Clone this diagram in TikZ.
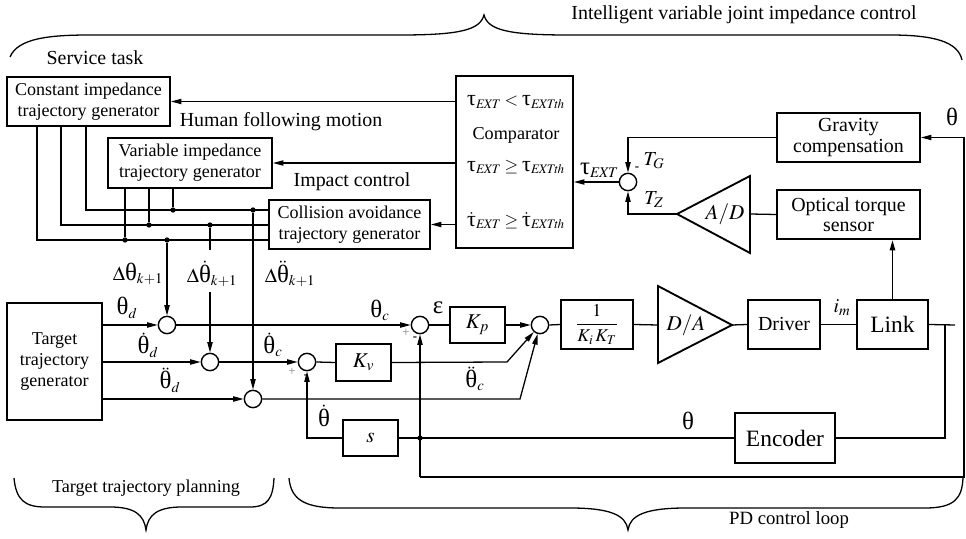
\documentclass[tikz,border=0pt]{standalone}
\usepackage{amsmath}
\usepackage{graphicx}
\usepackage{mathptmx}
\usepackage{fontspec}
\setmainfont{Liberation Serif}
\usetikzlibrary{arrows.meta, positioning, calc}
\tikzset{
    % framed blocks of the controller
    blk/.style={draw, line width=1.6pt, align=center, inner sep=0pt,
        font=\fontsize{15.4}{18}\selectfont},
    % summing junctions
    sumj/.style={circle, draw, line width=1.2pt, minimum size=0.52cm, inner sep=0pt},
    % branch points
    jdot/.style={circle, fill=black, inner sep=0pt, minimum size=4.5pt},
    % plain wires, heavy buses, arrowed signals
    wire/.style={line width=1.1pt},
    bus/.style={line width=1.6pt},
    sig/.style={wire, -{Triangle[length=9pt, width=4.5pt]}},
    % signal names and free text
    lbl/.style={font=\fontsize{17}{20}\selectfont, inner sep=0pt},
    cmprow/.style={font=\fontsize{15}{17}\selectfont, inner sep=0pt},
    sgn/.style={font=\fontsize{11}{11}\selectfont, inner sep=0pt},
    brace/.style={line width=1.1pt},
}
% upright greek letters, set a little larger than the text
\newcommand{\grk}[1]{\mbox{\scalebox{1.25}{#1}}}
\newcommand{\uth}{\grk{θ}}
\newcommand{\utau}{\grk{τ}}
\newcommand{\ueps}{\grk{ε}}

\begin{document}
\begin{tikzpicture}[x=0.03cm, y=-0.03cm]
    \useasboundingbox (0,0) rectangle (966,539);

    % --- braces and group titles ---
    \draw[brace] (10,57) .. controls (18,38) and (50,35) .. (90,35) -- (400,35)
        .. controls (460,35) and (480,30) .. (484,15)
        .. controls (488,30) and (508,35) .. (568,35) -- (890,35)
        .. controls (935,35) and (958,42) .. (962,60);
    \node[lbl] (tIVJ) at (744,15) {Intelligent variable joint impedance control};
    \node[lbl] (tServ) at (95,58) {Service task};
    \node[lbl] (tHum) at (281,122) {Human following motion};
    \node[lbl] (tImp) at (352,182) {Impact control};

    \draw[brace] (14,478) .. controls (16,500) and (25,507) .. (45,507) -- (110,507)
        .. controls (135,507) and (144,515) .. (146,530)
        .. controls (148,515) and (157,507) .. (182,507) -- (250,507)
        .. controls (268,507) and (273,498) .. (274,478);
    \node[lbl, font=\fontsize{15.5}{18}\selectfont] (tPlan) at (146,488) {Target trajectory planning};
    \draw[brace] (289,478) .. controls (291,500) and (305,508) .. (340,508) -- (570,508)
        .. controls (610,508) and (626,515) .. (628,530)
        .. controls (630,515) and (646,508) .. (686,508) -- (925,508)
        .. controls (955,508) and (962,498) .. (963,478);
    \node[lbl, font=\fontsize{16}{18}\selectfont] (tPD) at (789,520) {PD control loop};

    % --- trajectory generators ---
    \node[blk, minimum width=4.89cm, minimum height=1.47cm] (cimp) at (88.5,101.5)
        {Constant impedance\\trajectory generator};
    \node[blk, minimum width=4.92cm, minimum height=1.5cm] (vimp) at (190,163)
        {Variable impedance\\trajectory generator};
    \node[blk, minimum width=4.83cm, minimum height=1.47cm] (coll) at (349.5,224.5)
        {Collision avoidance\\trajectory generator};

    % --- comparator ---
    \node[blk, minimum width=3.51cm, minimum height=5.16cm] (comp) at (514.5,162) {};
    \node[cmprow] (cmp1) at (516,102) {$\utau_{\mathit{EXT}}<\utau_{\mathit{EXTth}}$};
    \node[lbl, font=\fontsize{15.5}{18}\selectfont] (cmp2) at (516,135) {Comparator};
    \node[cmprow] (cmp3) at (516,167) {$\utau_{\mathit{EXT}}\geq\utau_{\mathit{EXTth}}$};
    \node[cmprow] (cmp4) at (516,221) {$\dot{\utau}_{\mathit{EXT}}\geq\dot{\utau}_{\mathit{EXTth}}$};

    \draw[sig] (comp.west |- cimp.east) -- (cimp.east);
    \draw[sig] (comp.west |- vimp.east) -- (vimp.east);
    \draw[sig] (comp.west |- coll.east) -- (coll.east);

    % --- external torque estimate ---
    \node[sumj] (tsum) at (628,182) {};
    \node[blk, font=\fontsize{17}{17.5}\selectfont, minimum width=4.29cm, minimum height=1.47cm]
        (grav) at (848.5,137.5) {Gravity\\compensation};
    \node[blk, font=\fontsize{17}{17.5}\selectfont, minimum width=4.29cm, minimum height=1.47cm]
        (torq) at (848.5,214.5) {Optical torque\\sensor};
    \draw[line width=1.6pt] (677,214) -- (750,176) -- (750,253) -- cycle;
    \coordinate (adtip) at (677,214);
    \coordinate (adbase) at (750,214);
    \node[lbl, font=\fontsize{18}{20}\selectfont] (adlbl) at (725,214) {$A/D$};

    \draw[sig] (tsum.west) -- (comp.east |- tsum.west);
    \draw[sig] (grav.west) -| (tsum.north);
    \draw[sig] (adtip) -| (tsum.south);
    \draw[wire] (torq.west) -- (adbase);
    \node[lbl] (lTau) at (599,170) {$\utau_{\mathit{EXT}}$};
    \node[lbl] (lTG) at (654,161) {$T_G$};
    \node[lbl] (lTZ) at (654,200) {$T_Z$};
    \node[sgn, font=\bfseries\fontsize{11}{11}\selectfont] (mTs) at (637,169) {-};

    % --- buses from the generators ---
    \draw[bus] (86,0 |- cimp.south) |- (coll.west |- 0,210);
    \draw[bus] (61,0 |- cimp.south) |- (coll.west |- 0,225);
    \draw[bus] (37,0 |- cimp.south) |- (coll.west |- 0,240);
    \node[jdot] (bp2) at (173,210) {};
    \node[jdot] (bv2) at (149,225) {};
    \node[jdot] (ba2) at (125,240) {};
    \draw[bus] (173,0 |- vimp.south) -- (bp2);
    \draw[bus] (149,0 |- vimp.south) -- (bv2);
    \draw[bus] (125,0 |- vimp.south) -- (ba2);
    \node[jdot] (dp) at (167,240) {};
    \node[jdot] (dv) at (210,225) {};
    \node[jdot] (da) at (253,210) {};

    % --- PD loop ---
    \node[blk, minimum width=2.85cm, minimum height=3.51cm] (tgen) at (54.5,361.5)
        {Target\\trajectory\\generator};
    \node[sumj] (sp) at (167,325) {};
    \node[sumj] (sv) at (210,362) {};
    \node[sumj] (sa) at (253,399) {};
    \node[sumj] (ev) at (307,362) {};
    \node[sumj] (ep) at (420,325) {};
    \node[sumj] (su) at (540,325) {};
    \node[blk, font=\fontsize{18}{20}\selectfont, minimum width=1.65cm, minimum height=1.11cm]
        (kv) at (363.5,362.5) {$K_v$};
    \node[blk, font=\fontsize{18}{20}\selectfont, minimum width=1.65cm, minimum height=1.08cm]
        (kp) at (477.5,325) {$K_p$};
    \node[blk, minimum width=2.16cm, minimum height=1.47cm] (kk) at (597,324.5)
        {$\dfrac{1}{K_i\,K_T}$};
    \draw[line width=1.6pt] (658,286) -- (732,325) -- (658,363) -- cycle;
    \coordinate (dabase) at (658,325);
    \coordinate (datip) at (732,325);
    \node[lbl, font=\fontsize{18}{20}\selectfont] (dalbl) at (686,325) {$D/A$};
    \node[blk, font=\fontsize{17}{20}\selectfont, minimum width=2.16cm, minimum height=1.47cm]
        (drv) at (784,324.5) {Driver};
    \node[blk, font=\fontsize{20}{22}\selectfont, minimum width=2.13cm, minimum height=1.47cm]
        (link) at (892.5,324.5) {Link};
    \node[blk, font=\fontsize{20}{22}\selectfont, minimum width=3cm, minimum height=1.5cm]
        (enc) at (785,438) {Encoder};
    \node[blk, font=\fontsize{18}{20}\selectfont, minimum width=1.65cm, minimum height=1.08cm]
        (sd) at (370.5,438) {$s$};

    \coordinate (kvb) at (507,362);
    \coordinate (acb) at (520,399);
    \coordinate (fbr) at (945,325);
    \coordinate (stub) at (955,325);
    \node[jdot] (tap) at (420,438) {};
    \coordinate (lb) at (420,477);
    \coordinate (rb) at (964,477);
    \coordinate (rt) at (964,137.5);
    \coordinate (dvgapa) at (210,250);
    \coordinate (dvgapb) at (210,292);

    % position path
    \draw[sig] (tgen.east |- sp) -- (sp.west);
    \draw[sig] (sp.east) -- (ep.west);
    \draw[wire] (ep.east) -- (kp.west);
    \draw[sig] (kp.east) -- (su.west);
    \draw[wire] (su.east) -- (kk.west);
    \draw[wire] (kk.east) -- (dabase);
    \draw[wire] (datip) -- (drv.west);
    \draw[wire] (drv.east) -- (link.west);
    \draw[wire] (link.east) -- (stub);
    \draw[sig, bus] (link.north) -- (link.north |- torq.south);

    % velocity and acceleration paths
    \draw[sig] (tgen.east |- sv) -- (sv.west);
    \draw[sig] (sv.east) -- (ev.west);
    \draw[wire] (ev.east) -- (kv.west);
    \draw[sig] (kv.east) -- (kvb) -- (su);
    \draw[sig] (tgen.east |- sa) -- (sa.west);
    \draw[sig] (sa.east) -- (acb) -- (su);

    % corrections from the generators
    \draw[sig] (dp) -- (sp.north);
    \draw[wire] (dv) -- (dvgapa);
    \draw[sig] (dvgapb) -- (sv.north);
    \draw[sig] (da) -- (sa.north);

    % feedback
    \draw[wire] (fbr) |- (enc.east);
    \draw[wire] (enc.west) -- (sd.east);
    \draw[sig] (sd.west) -| (ev.south);
    \draw[sig] (lb) -- (ep.south);
    \draw[wire] (lb) -- (rb) -- (rt);
    \draw[sig] (rt) -- (grav.east);

    % signal names
    \node[lbl] (lthd) at (127,308) {$\uth_d$};
    \node[lbl] (lthdd) at (148,345) {$\dot{\uth}_d$};
    \node[lbl] (lthddd) at (170,380) {$\ddot{\uth}_d$};
    \node[lbl] (ldp) at (138,274) {$\Delta\uth_{k+1}$};
    \node[lbl] (ldv) at (212,274) {$\Delta\dot{\uth}_{k+1}$};
    \node[lbl] (lda) at (290,274) {$\Delta\ddot{\uth}_{k+1}$};
    \node[lbl] (lthc) at (380,310) {$\uth_c$};
    \node[lbl] (leps) at (438,308) {$\ueps$};
    \node[lbl] (lthcd) at (273,345) {$\dot{\uth}_c$};
    \node[lbl] (lthcdd) at (475,379) {$\ddot{\uth}_c$};
    \node[lbl] (lthdot) at (324,416) {$\dot{\uth}$};
    \node[lbl] (lthenc) at (688,421) {$\uth$};
    \node[lbl] (lim) at (842,308) {$i_m$};
    \node[lbl] (lthg) at (952,117) {$\uth$};
    \node[sgn, text=gray] (pEp) at (406,333) {+};
    \node[sgn, font=\bfseries\fontsize{11}{11}\selectfont] (mEp) at (415,339) {-};
    \node[sgn, text=gray] (pEv) at (292,372) {+};
    \node[sgn, font=\bfseries\fontsize{11}{11}\selectfont] (mEv) at (306,377) {-};

\end{tikzpicture}
\end{document}
